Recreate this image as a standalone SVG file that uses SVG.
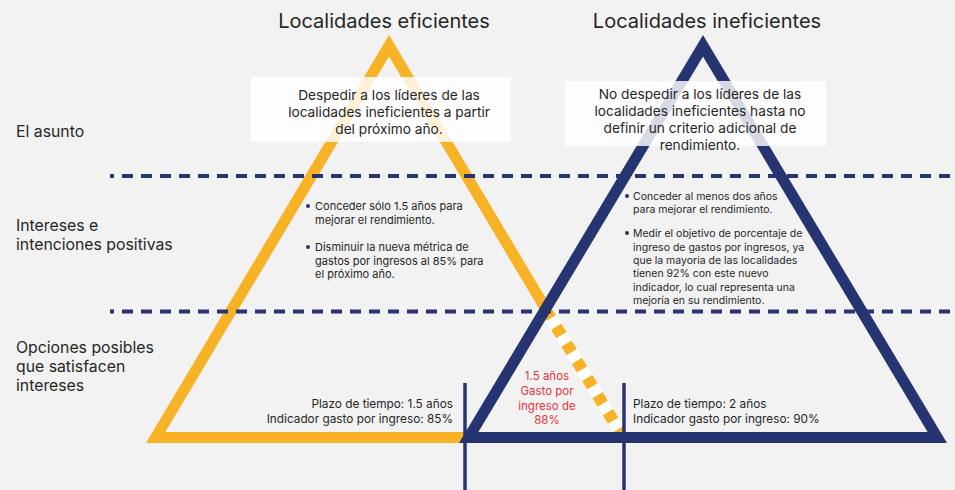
<svg xmlns="http://www.w3.org/2000/svg" width="955" height="490" viewBox="0 0 955 490">
<style>
text{font-family:Inter,"Liberation Sans",sans-serif;fill:#262626}
.title{font-size:20px;text-anchor:middle}
.lbl{font-size:15.8px}
.box{font-size:13.7px;text-anchor:middle}
.sm{font-size:11px}
.smr{font-size:10.5px}
.bot{font-size:11.8px}
.red{font-size:11.5px;fill:#E8323C;text-anchor:middle}
.dash{stroke:#263571;stroke-width:4;stroke-dasharray:11 8;fill:none}
.vline{stroke:#263571;stroke-width:3.5}
.wbox{fill:#fff;fill-opacity:0.82}
.dot{fill:#263571}
</style>
<rect width="955" height="490" fill="#F2F2F2"/>
<g id="tri-eficientes">
<path fill="#F8B226" fill-rule="evenodd" d="M389,35 L146,443 L632,443 Z M389,56.5 L165.4,432 L612.6,432 Z"/>
</g>
<g id="dashed-edge">
<line x1="551" y1="318" x2="620" y2="432" stroke="#fff" stroke-width="13"/>
<line x1="551" y1="318" x2="620" y2="432" stroke="#F8B226" stroke-width="12" stroke-dasharray="10 10" stroke-dashoffset="10"/>
</g>
<g id="tri-ineficientes">
<path fill="#263571" fill-rule="evenodd" d="M703,35 L459,443 L947,443 Z M703,56.5 L478.4,432 L927.6,432 Z"/>
</g>
<g id="connectors">
<line class="dash" x1="110" y1="176" x2="955" y2="176" stroke-dashoffset="7"/>
<line class="dash" x1="110" y1="311.5" x2="955" y2="311.5" stroke-dashoffset="7"/>
<line class="vline" x1="465" y1="383" x2="465" y2="490"/>
<line class="vline" x1="624" y1="383" x2="624" y2="490"/>
</g>
<g id="titles">
<text class="title" x="384" y="28">Localidades eficientes</text>
<text class="title" x="707" y="28">Localidades ineficientes</text>
</g>
<g id="row-labels">
<text class="lbl" x="16" y="137">El asunto</text>
<text class="lbl" x="16" y="231">Intereses e</text>
<text class="lbl" x="16" y="250">intenciones positivas</text>
<text class="lbl" x="16" y="353">Opciones posibles</text>
<text class="lbl" x="16" y="372">que satisfacen</text>
<text class="lbl" x="16" y="391">intereses</text>
</g>
<g id="asunto-eficientes">
<rect class="wbox" x="251" y="77" width="260" height="65"/>
<text class="box" x="389" y="100">Despedir a los líderes de las</text>
<text class="box" x="389" y="117">localidades ineficientes a partir</text>
<text class="box" x="389" y="134">del próximo año.</text>
</g>
<g id="asunto-ineficientes">
<rect class="wbox" x="565" y="81" width="261" height="65"/>
<text class="box" x="700" y="99">No despedir a los líderes de las</text>
<text class="box" x="700" y="116">localidades ineficientes hasta no</text>
<text class="box" x="700" y="133">definir un criterio adicional de</text>
<text class="box" x="700" y="150">rendimiento.</text>
</g>
<g id="intereses-eficientes">
<circle class="dot" cx="308" cy="206" r="2"/>
<text class="sm" x="315" y="210">Conceder sólo 1.5 años para</text>
<text class="sm" x="315" y="224">mejorar el rendimiento.</text>
<circle class="dot" cx="308" cy="247" r="2"/>
<text class="sm" x="315" y="251">Disminuir la nueva métrica de</text>
<text class="sm" x="315" y="265">gastos por ingresos al 85% para</text>
<text class="sm" x="315" y="278">el próximo año.</text>
</g>
<g id="intereses-ineficientes">
<circle class="dot" cx="627" cy="196" r="2"/>
<text class="smr" x="633" y="200">Conceder al menos dos años</text>
<text class="smr" x="633" y="213">para mejorar el rendimiento.</text>
<circle class="dot" cx="627" cy="233" r="2"/>
<text class="smr" x="633" y="237">Medir el objetivo de porcentaje de</text>
<text class="smr" x="633" y="251">ingreso de gastos por ingresos, ya</text>
<text class="smr" x="633" y="264">que la mayoría de las localidades</text>
<text class="smr" x="633" y="277">tienen 92% con este nuevo</text>
<text class="smr" x="633" y="291">indicador, lo cual representa una</text>
<text class="smr" x="633" y="304">mejoría en su rendimiento.</text>
</g>
<g id="opcion-eficientes">
<text class="bot" x="453" y="408" text-anchor="end">Plazo de tiempo: 1.5 años</text>
<text class="bot" x="453" y="423" text-anchor="end">Indicador gasto por ingreso: 85%</text>
</g>
<g id="opcion-ineficientes">
<text class="bot" x="633" y="408">Plazo de tiempo: 2 años</text>
<text class="bot" x="633" y="423">Indicador gasto por ingreso: 90%</text>
</g>
<g id="opcion-intermedia">
<text class="red" x="547" y="380">1.5 años</text>
<text class="red" x="547" y="395">Gasto por</text>
<text class="red" x="547" y="410">ingreso de</text>
<text class="red" x="547" y="424">88%</text>
</g>
</svg>
